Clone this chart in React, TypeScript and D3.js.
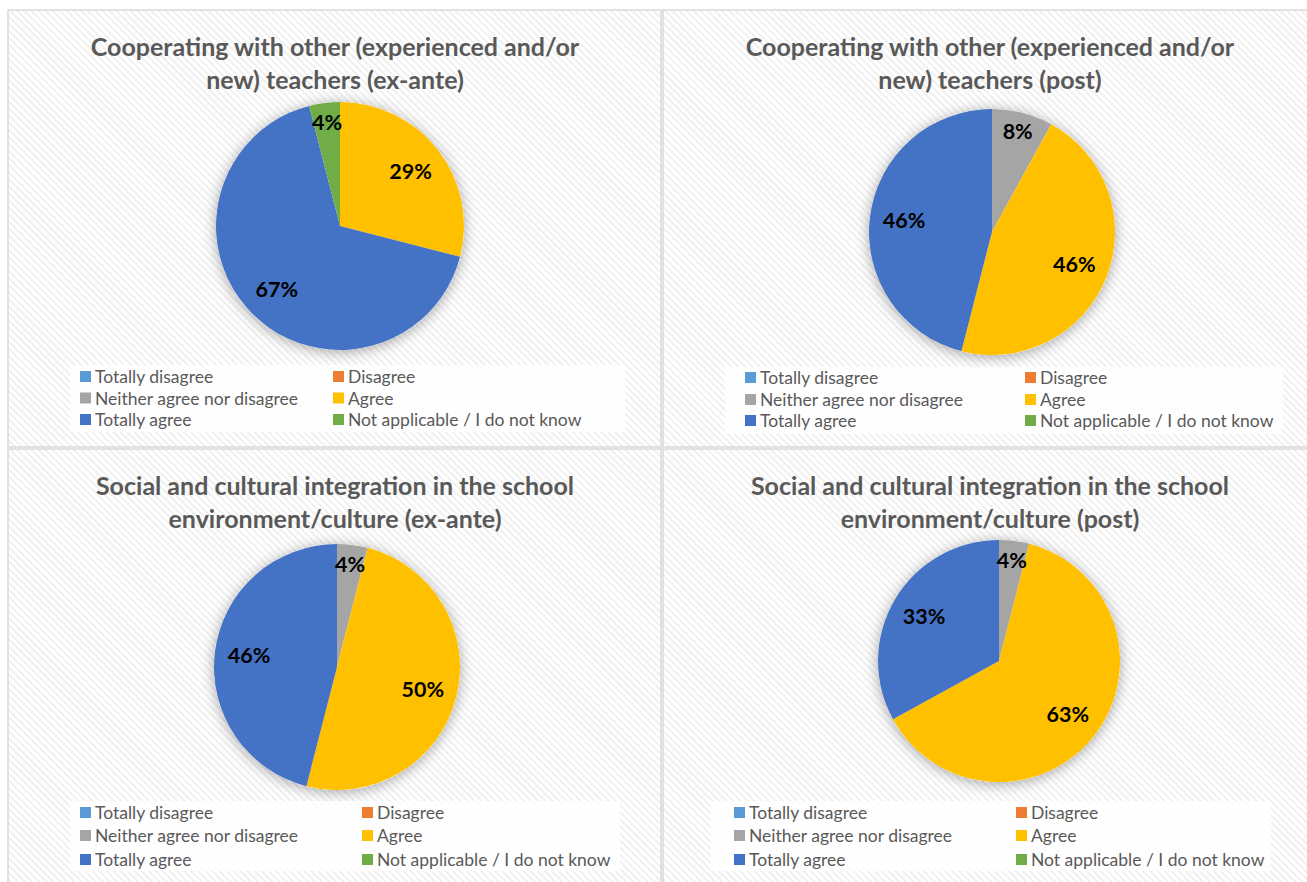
import React from "react";
import * as d3 from "d3";

const CATEGORIES = [
  "Totally disagree",
  "Disagree",
  "Neither agree nor disagree",
  "Agree",
  "Totally agree",
  "Not applicable / I do not know",
];
const COLORS = ["#5B9BD5", "#ED7D31", "#A5A5A5", "#FFC000", "#4472C4", "#70AD47"];

const TITLES = [
  ["Cooperating with other (experienced and/or", "new) teachers (ex-ante)"],
  ["Cooperating with other (experienced and/or", "new) teachers (post)"],
  ["Social and cultural integration in the school", "environment/culture (ex-ante)"],
  ["Social and cultural integration in the school", "environment/culture (post)"],
];

const COOP_EXANTE = [0, 0, 0, 29, 67, 4];
const COOP_POST = [0, 0, 8, 46, 46, 0];
const SOCIAL_EXANTE = [0, 0, 4, 50, 46, 0];
const SOCIAL_POST = [0, 0, 4, 63, 33, 0];
const SERIES = [COOP_EXANTE, COOP_POST, SOCIAL_EXANTE, SOCIAL_POST];

// layout (panel-relative)
const PANELS = [
  { x: 8, y: 10, cx: 332, cy: 216, r: 124, box: [62, 355, 555, 67], rows: [367, 388.5, 410], col: [72, 325] },
  { x: 663, y: 10, cx: 329, cy: 222, r: 123, box: [62, 357, 558, 67], rows: [368, 390, 411], col: [82, 362] },
  { x: 8, y: 449, cx: 329, cy: 218, r: 123, box: [62, 352, 550, 70], rows: [364, 387, 411], col: [72, 354] },
  { x: 663, y: 449, cx: 336, cy: 212, r: 121, box: [48, 352, 560, 70], rows: [364, 387, 411], col: [71, 353] },
];
const PW = 653;
const PH = 437;

const FONT = "Lato, 'Open Sans', sans-serif";

function Panel({ idx }: { idx: number }) {
  const p = PANELS[idx];
  const data = SERIES[idx];
  const pie = d3.pie<number>().sort(null).value((d) => d)(data);
  const arc = d3.arc<d3.PieArcDatum<number>>().innerRadius(0).outerRadius(p.r);
  const total = d3.sum(data);
  return (
    <g transform={`translate(${p.x},${p.y})`}>
      <rect x={0} y={0} width={PW} height={PH} fill="url(#hatch)" stroke="#d9d9d9" strokeWidth={1.5} />
      <text
        x={327}
        textAnchor="middle"
        fontFamily={FONT}
        fontWeight={700}
        fontSize={25}
        fill="#595959"
      >
        <tspan x={327} y={46}>{TITLES[idx][0]}</tspan>
        <tspan x={327} y={79}>{TITLES[idx][1]}</tspan>
      </text>
      <g transform={`translate(${p.cx},${p.cy})`}>
        <circle r={p.r} fill="#fff" filter="url(#glow)" />
        {pie.map((s, i) =>
          s.value > 0 ? <path key={i} d={arc(s) || ""} fill={COLORS[i]} /> : null
        )}
        {pie.map((s, i) => {
          if (s.value <= 0) return null;
          const frac = s.value / total;
          const k = frac < 0.1 ? 0.84 : 0.72;
          const a = (s.startAngle + s.endAngle) / 2;
          const lx = Math.sin(a) * p.r * k;
          const ly = -Math.cos(a) * p.r * k;
          return (
            <text
              key={"l" + i}
              x={lx}
              y={ly}
              dy="0.35em"
              textAnchor="middle"
              fontFamily={FONT}
              fontWeight={700}
              fontSize={21.5}
              fill="#000"
            >
              {Math.round(frac * 100)}%
            </text>
          );
        })}
      </g>
      <rect x={p.box[0]} y={p.box[1]} width={p.box[2]} height={p.box[3]} fill="#fff" opacity={0.85} />
      {CATEGORIES.map((c, i) => {
        const row = Math.floor(i / 2);
        const col = i % 2;
        const x = p.col[col];
        const y = p.rows[row];
        return (
          <g key={c}>
            <rect x={x} y={y - 6} width={11} height={11} fill={COLORS[i]} />
            <text x={x + 15} y={y} dy="0.35em" fontFamily={FONT} fontSize={17.5} fill="#595959">
              {c}
            </text>
          </g>
        );
      })}
    </g>
  );
}

export default function App() {
  return (
    <div style={{ position: "absolute", left: 0, top: 0 }}>
      <svg width={1307} height={882} style={{ display: "block" }}>
        <defs>
          <pattern id="hatch" width={5} height={5} patternUnits="userSpaceOnUse" patternTransform="rotate(-45)">
            <rect width={5} height={5} fill="#ffffff" />
            <rect width={2} height={5} fill="#f0f0f0" />
          </pattern>
          <filter id="glow" x="-30%" y="-30%" width="160%" height="160%">
            <feDropShadow dx={0} dy={2} stdDeviation={7} floodColor="#000" floodOpacity={0.35} />
          </filter>
        </defs>
        <rect width={1307} height={882} fill="#fff" />
        {PANELS.map((_, i) => (
          <Panel key={i} idx={i} />
        ))}
      </svg>
    </div>
  );
}
